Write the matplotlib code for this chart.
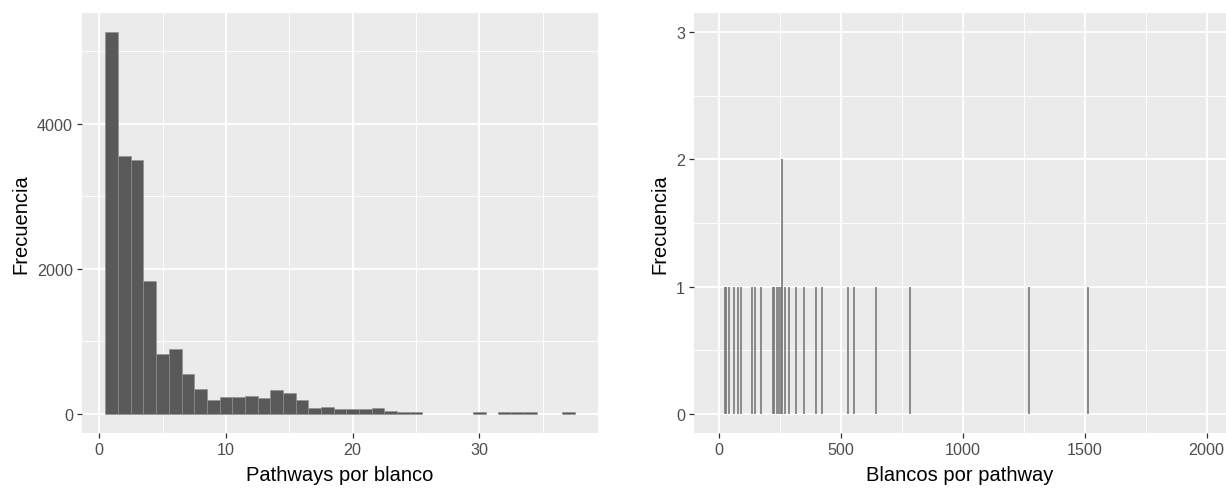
import numpy as np
import matplotlib
matplotlib.use("Agg")
import matplotlib.pyplot as plt

# left histogram: pathways per target
pathways = list(range(1, 38))
freq_pathways = [5266, 3555, 3495, 1835, 821, 899, 555, 349, 193, 229,
                 229, 252, 216, 326, 289, 193, 78, 101, 62, 62,
                 62, 83, 45, 28, 28, 0, 0, 0, 0, 25,
                 0, 25, 25, 25, 0, 0, 25]

# right histogram: targets per pathway
blancos = [22, 28, 39, 62, 78, 89, 135, 147, 169, 219, 224, 235, 245, 252,
           256, 270, 286, 315, 348, 397, 420, 526, 553, 644, 784, 1271, 1513]
freq_blancos = [1, 1, 1, 1, 1, 1, 1, 1, 1, 1, 1, 1, 1, 1,
                2, 1, 1, 1, 1, 1, 1, 1, 1, 1, 1, 1, 1]

left_ticks = [0, 10, 20, 30]
left_yticks = [0, 2000, 4000]
right_ticks = [0, 500, 1000, 1500, 2000]
right_yticks = [0, 1, 2, 3]

plt.rcParams['font.family'] = ['Liberation Sans', 'DejaVu Sans']

W, H = 1226, 489
fig = plt.figure(figsize=(W / 100, H / 100), dpi=100)
ax1 = fig.add_axes([82 / W, (H - 434) / H, (598 - 82) / W, (434 - 14) / H])
ax2 = fig.add_axes([694 / W, (H - 434) / H, (W - 694) / W, (434 - 14) / H])

tick_size = 11.6
title_size = 14.5


def style(ax, xmajor, xminor, ymajor, yminor):
    ax.set_facecolor('#EBEBEB')
    for s in ax.spines.values():
        s.set_visible(False)
    ax.set_xticks(xmajor)
    ax.set_xticks(xminor, minor=True)
    ax.set_yticks(ymajor)
    ax.set_yticks(yminor, minor=True)
    ax.grid(which='major', color='white', linewidth=1.3)
    ax.grid(which='minor', color='white', linewidth=0.65)
    ax.set_axisbelow(True)
    ax.tick_params(which='major', length=3.6, width=0.9, color='#333333',
                   labelsize=tick_size, labelcolor='#4D4D4D', pad=2.9)
    ax.tick_params(which='minor', length=0)


p = np.array(pathways)
fp = np.array(freq_pathways)
m = fp > 0
ax1.bar(p[m], fp[m], width=1, color='#595959', edgecolor='#8f8f8f', linewidth=0.4)
ax1.set_xlim(-1.35, 39.35)
ax1.set_ylim(-263, 5529)
style(ax1, left_ticks, [5, 15, 25, 35], left_yticks, [1000, 3000, 5000])
ax1.set_xlabel('Pathways por blanco', fontsize=title_size, labelpad=6)
ax1.set_ylabel('Frecuencia', fontsize=title_size, labelpad=5)

# bins are 1 unit wide, far below a pixel: draw them as thin lines
ax2.vlines(blancos, 0, freq_blancos, color='#707070', linewidth=1.1)
ax2.set_xlim(-104, 2079)
ax2.set_ylim(-0.15, 3.15)
style(ax2, right_ticks, [250, 750, 1250, 1750], right_yticks, [0.5, 1.5, 2.5])
ax2.set_xlabel('Blancos por pathway', fontsize=title_size, labelpad=6)
ax2.set_ylabel('Frecuencia', fontsize=title_size, labelpad=5)

fig.savefig('out.png', dpi=100)
